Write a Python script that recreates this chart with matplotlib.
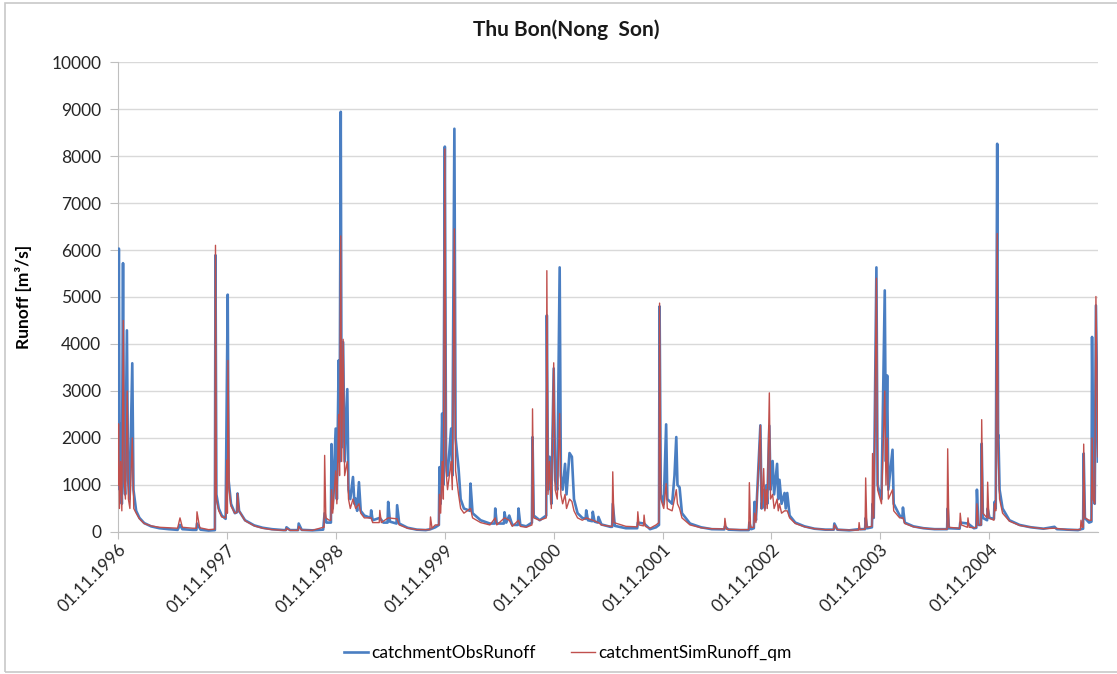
import matplotlib
matplotlib.use("Agg")
import matplotlib.pyplot as plt
import matplotlib.dates as mdates
from matplotlib.patches import Rectangle
import numpy as np

plt.rcParams['font.family'] = ['Lato', 'DejaVu Sans']

# observed runoff at Nong Son, key points (date, m3/s)
obs_points = [
    ("1996-11-01", 1500), ("1996-11-04", 6030), ("1996-11-07", 900), ("1996-11-10", 2300),
    ("1996-11-14", 600), ("1996-11-18", 5720), ("1996-11-21", 1300), ("1996-11-25", 800),
    ("1996-12-01", 4290), ("1996-12-05", 1100), ("1996-12-10", 700), ("1996-12-19", 3590),
    ("1996-12-23", 900), ("1997-01-01", 450), ("1997-01-12", 300), ("1997-01-28", 190),
    ("1997-02-20", 120), ("1997-03-20", 80), ("1997-04-20", 60), ("1997-05-20", 45),
    ("1997-05-28", 150), ("1997-06-05", 60), ("1997-07-10", 45), ("1997-07-22", 45),
    ("1997-07-24", 180), ("1997-08-05", 50), ("1997-09-01", 30), ("1997-09-22", 40),
    ("1997-09-24", 5890), ("1997-09-27", 800), ("1997-10-05", 500), ("1997-10-15", 350),
    ("1997-10-28", 280), ("1997-11-04", 5050), ("1997-11-07", 1100), ("1997-11-15", 600),
    ("1997-11-28", 400), ("1997-12-05", 420), ("1997-12-07", 820), ("1997-12-12", 450),
    ("1998-01-01", 250), ("1998-02-01", 140), ("1998-03-01", 90), ("1998-04-01", 60),
    ("1998-05-10", 40), ("1998-05-18", 40), ("1998-05-20", 100), ("1998-06-01", 40),
    ("1998-06-28", 40), ("1998-06-30", 180), ("1998-07-10", 45), ("1998-08-15", 35),
    ("1998-09-20", 50), ("1998-09-25", 400), ("1998-10-01", 200), ("1998-10-16", 200),
    ("1998-10-18", 1870), ("1998-10-22", 500), ("1998-11-01", 2200), ("1998-11-05", 700),
    ("1998-11-11", 3650), ("1998-11-14", 1500), ("1998-11-18", 8940), ("1998-11-21", 1800),
    ("1998-11-26", 4040), ("1998-12-01", 1500), ("1998-12-10", 3040), ("1998-12-14", 900),
    ("1998-12-20", 700), ("1998-12-29", 1170), ("1999-01-03", 600), ("1999-01-07", 710),
    ("1999-01-12", 450), ("1999-01-18", 1060), ("1999-01-24", 450), ("1999-02-05", 350),
    ("1999-02-26", 300), ("1999-02-28", 460), ("1999-03-05", 250), ("1999-03-29", 300),
    ("1999-04-10", 200), ("1999-04-24", 200), ("1999-04-26", 640), ("1999-05-02", 220),
    ("1999-05-24", 180), ("1999-05-26", 570), ("1999-06-02", 180), ("1999-06-30", 90),
    ("1999-07-31", 50), ("1999-08-30", 40), ("1999-09-15", 60), ("1999-10-01", 100),
    ("1999-10-13", 150), ("1999-10-15", 1380), ("1999-10-19", 600), ("1999-10-24", 2520),
    ("1999-10-28", 1000), ("1999-11-02", 8200), ("1999-11-06", 1500), ("1999-11-11", 1200),
    ("1999-11-23", 2200), ("1999-11-27", 1200), ("1999-12-04", 8580), ("1999-12-08", 2000),
    ("1999-12-18", 1350), ("1999-12-25", 700), ("2000-01-05", 500), ("2000-01-25", 450),
    ("2000-01-27", 1030), ("2000-02-03", 400), ("2000-03-01", 250), ("2000-04-01", 180),
    ("2000-04-17", 180), ("2000-04-19", 500), ("2000-04-24", 180), ("2000-05-18", 180),
    ("2000-05-20", 420), ("2000-05-26", 200), ("2000-06-05", 350), ("2000-06-15", 150),
    ("2000-07-04", 150), ("2000-07-06", 500), ("2000-07-12", 150), ("2000-08-01", 120),
    ("2000-08-20", 200), ("2000-08-22", 2020), ("2000-08-26", 350), ("2000-09-15", 250),
    ("2000-10-07", 350), ("2000-10-09", 4610), ("2000-10-13", 900), ("2000-10-18", 1600),
    ("2000-10-24", 600), ("2000-11-01", 3480), ("2000-11-06", 1100), ("2000-11-13", 900),
    ("2000-11-21", 5630), ("2000-11-25", 1200), ("2000-12-01", 900), ("2000-12-09", 1450),
    ("2000-12-14", 800), ("2000-12-24", 1680), ("2001-01-01", 1600), ("2001-01-08", 700),
    ("2001-01-20", 400), ("2001-02-05", 300), ("2001-02-16", 280), ("2001-02-18", 460),
    ("2001-02-24", 250), ("2001-03-10", 230), ("2001-03-12", 430), ("2001-03-18", 220),
    ("2001-03-29", 200), ("2001-03-31", 320), ("2001-04-10", 160), ("2001-05-10", 110),
    ("2001-05-16", 110), ("2001-05-18", 600), ("2001-05-25", 130), ("2001-07-01", 80),
    ("2001-08-08", 80), ("2001-08-10", 200), ("2001-08-31", 180), ("2001-09-20", 60),
    ("2001-10-10", 100), ("2001-10-20", 150), ("2001-10-22", 4800), ("2001-10-26", 800),
    ("2001-11-05", 600), ("2001-11-13", 2290), ("2001-11-17", 700), ("2001-12-03", 600),
    ("2001-12-11", 1200), ("2001-12-17", 2020), ("2001-12-21", 1000), ("2001-12-28", 950),
    ("2002-01-05", 400), ("2002-02-01", 180), ("2002-03-10", 100), ("2002-04-15", 60),
    ("2002-05-27", 55), ("2002-05-29", 120), ("2002-06-10", 50), ("2002-07-20", 40),
    ("2002-08-17", 40), ("2002-08-19", 200), ("2002-08-25", 60), ("2002-09-03", 80),
    ("2002-09-05", 640), ("2002-09-10", 250), ("2002-09-25", 2270), ("2002-09-29", 500),
    ("2002-10-06", 900), ("2002-10-10", 500), ("2002-10-14", 990), ("2002-10-18", 600),
    ("2002-10-25", 2260), ("2002-10-29", 900), ("2002-11-05", 1510), ("2002-11-10", 800),
    ("2002-11-20", 1450), ("2002-11-24", 700), ("2002-11-28", 1110), ("2002-12-05", 600),
    ("2002-12-15", 830), ("2002-12-19", 500), ("2002-12-24", 830), ("2003-01-01", 350),
    ("2003-01-20", 200), ("2003-02-20", 120), ("2003-03-25", 70), ("2003-05-01", 50),
    ("2003-05-29", 50), ("2003-05-31", 180), ("2003-06-10", 50), ("2003-07-20", 35),
    ("2003-08-22", 60), ("2003-09-11", 60), ("2003-09-13", 300), ("2003-09-18", 80),
    ("2003-10-04", 100), ("2003-10-06", 600), ("2003-10-10", 300), ("2003-10-19", 5630),
    ("2003-10-23", 1000), ("2003-11-05", 700), ("2003-11-16", 5140), ("2003-11-20", 1500),
    ("2003-11-24", 3330), ("2003-11-28", 900), ("2003-12-12", 1750), ("2003-12-16", 600),
    ("2004-01-05", 350), ("2004-01-14", 300), ("2004-01-16", 520), ("2004-01-22", 200),
    ("2004-02-20", 120), ("2004-03-25", 80), ("2004-05-01", 60), ("2004-06-12", 60),
    ("2004-06-14", 500), ("2004-06-18", 80), ("2004-07-24", 70), ("2004-07-26", 200),
    ("2004-08-21", 180), ("2004-09-10", 80), ("2004-09-18", 90), ("2004-09-20", 900),
    ("2004-09-25", 150), ("2004-10-04", 150), ("2004-10-06", 1880), ("2004-10-10", 300),
    ("2004-10-24", 250), ("2004-10-26", 500), ("2004-11-01", 300), ("2004-11-16", 280),
    ("2004-11-18", 640), ("2004-11-22", 500), ("2004-11-27", 8260), ("2004-11-30", 2000),
    ("2004-12-01", 2060), ("2004-12-05", 900), ("2004-12-15", 500), ("2005-01-07", 250),
    ("2005-02-10", 150), ("2005-03-20", 100), ("2005-05-01", 70), ("2005-06-07", 110),
    ("2005-06-15", 60), ("2005-07-20", 50), ("2005-08-25", 40), ("2005-09-04", 60),
    ("2005-09-11", 70), ("2005-09-13", 1670), ("2005-09-17", 300), ("2005-10-01", 200),
    ("2005-10-09", 220), ("2005-10-11", 4150), ("2005-10-15", 800), ("2005-10-20", 600),
    ("2005-10-24", 4820), ("2005-10-31", 1500),
]

# simulated runoff after quantile mapping, key points (date, m3/s)
sim_points = [
    ("1996-11-01", 1000), ("1996-11-03", 2300), ("1996-11-06", 500), ("1996-11-10", 1500),
    ("1996-11-14", 450), ("1996-11-19", 4500), ("1996-11-22", 1100), ("1996-11-26", 700),
    ("1996-12-02", 3000), ("1996-12-06", 700), ("1996-12-11", 500), ("1996-12-19", 2000),
    ("1996-12-24", 500), ("1997-01-01", 400), ("1997-01-12", 280), ("1997-01-28", 180),
    ("1997-02-20", 130), ("1997-03-20", 100), ("1997-04-20", 90), ("1997-05-20", 80),
    ("1997-05-28", 300), ("1997-06-05", 100), ("1997-07-10", 80), ("1997-07-22", 80),
    ("1997-07-24", 430), ("1997-08-02", 90), ("1997-09-01", 50), ("1997-09-22", 60),
    ("1997-09-24", 6100), ("1997-09-27", 700), ("1997-10-05", 450), ("1997-10-15", 320),
    ("1997-10-28", 300), ("1997-11-01", 1530), ("1997-11-03", 400), ("1997-11-05", 3650),
    ("1997-11-09", 900), ("1997-11-15", 550), ("1997-11-28", 400), ("1997-12-05", 420),
    ("1997-12-07", 820), ("1997-12-12", 450), ("1998-01-01", 240), ("1998-02-01", 130),
    ("1998-03-01", 80), ("1998-04-01", 50), ("1998-05-10", 35), ("1998-05-18", 35),
    ("1998-05-20", 80), ("1998-06-01", 35), ("1998-06-28", 35), ("1998-06-30", 120),
    ("1998-07-10", 40), ("1998-08-15", 35), ("1998-09-20", 100), ("1998-09-23", 100),
    ("1998-09-25", 1630), ("1998-09-29", 300), ("1998-10-10", 250), ("1998-10-16", 250),
    ("1998-10-18", 900), ("1998-10-22", 400), ("1998-11-01", 1300), ("1998-11-05", 600),
    ("1998-11-11", 2500), ("1998-11-14", 1200), ("1998-11-18", 6300), ("1998-11-21", 1500),
    ("1998-11-26", 4100), ("1998-12-01", 1200), ("1998-12-10", 1500), ("1998-12-14", 700),
    ("1998-12-20", 500), ("1998-12-29", 700), ("1999-01-07", 500), ("1999-01-18", 600),
    ("1999-01-24", 400), ("1999-02-05", 300), ("1999-02-28", 300), ("1999-03-05", 200),
    ("1999-03-27", 200), ("1999-03-29", 460), ("1999-04-03", 200), ("1999-04-26", 300),
    ("1999-05-26", 280), ("1999-06-02", 150), ("1999-06-30", 80), ("1999-07-31", 50),
    ("1999-08-30", 50), ("1999-09-13", 50), ("1999-09-15", 320), ("1999-09-20", 80),
    ("1999-10-01", 150), ("1999-10-13", 150), ("1999-10-15", 800), ("1999-10-19", 400),
    ("1999-10-24", 1500), ("1999-10-28", 700), ("1999-11-02", 8150), ("1999-11-06", 1300),
    ("1999-11-11", 900), ("1999-11-23", 1500), ("1999-11-27", 900), ("1999-12-04", 6450),
    ("1999-12-08", 1300), ("1999-12-18", 800), ("1999-12-25", 500), ("2000-01-05", 400),
    ("2000-01-27", 500), ("2000-02-03", 300), ("2000-03-01", 200), ("2000-04-01", 150),
    ("2000-04-19", 300), ("2000-04-24", 150), ("2000-05-20", 300), ("2000-06-05", 250),
    ("2000-06-15", 120), ("2000-07-06", 250), ("2000-07-12", 120), ("2000-08-01", 100),
    ("2000-08-20", 150), ("2000-08-22", 2620), ("2000-08-26", 300), ("2000-09-15", 250),
    ("2000-10-07", 300), ("2000-10-09", 5560), ("2000-10-13", 800), ("2000-10-18", 1500),
    ("2000-10-24", 500), ("2000-11-01", 3600), ("2000-11-06", 900), ("2000-11-13", 700),
    ("2000-11-21", 2520), ("2000-11-25", 800), ("2000-12-01", 600), ("2000-12-09", 800),
    ("2000-12-14", 500), ("2000-12-24", 700), ("2001-01-01", 650), ("2001-01-08", 450),
    ("2001-01-20", 300), ("2001-02-05", 250), ("2001-02-18", 300), ("2001-03-12", 250),
    ("2001-03-31", 200), ("2001-04-10", 150), ("2001-05-10", 120), ("2001-05-16", 120),
    ("2001-05-18", 1280), ("2001-05-22", 200), ("2001-07-01", 120), ("2001-08-08", 110),
    ("2001-08-10", 430), ("2001-08-14", 150), ("2001-08-29", 130), ("2001-08-31", 360),
    ("2001-09-04", 120), ("2001-09-20", 80), ("2001-10-10", 150), ("2001-10-20", 200),
    ("2001-10-22", 4870), ("2001-10-26", 700), ("2001-11-05", 500), ("2001-11-13", 1030),
    ("2001-11-17", 500), ("2001-12-03", 450), ("2001-12-11", 700), ("2001-12-17", 900),
    ("2001-12-21", 600), ("2001-12-28", 500), ("2002-01-05", 300), ("2002-02-01", 150),
    ("2002-03-10", 90), ("2002-04-15", 70), ("2002-05-27", 65), ("2002-05-29", 290),
    ("2002-06-03", 60), ("2002-07-20", 50), ("2002-08-17", 50), ("2002-08-19", 1050),
    ("2002-08-23", 100), ("2002-09-03", 100), ("2002-09-05", 400), ("2002-09-10", 200),
    ("2002-09-25", 2270), ("2002-09-29", 500), ("2002-10-06", 1350), ("2002-10-10", 450),
    ("2002-10-14", 900), ("2002-10-18", 500), ("2002-10-25", 2960), ("2002-10-29", 700),
    ("2002-11-05", 800), ("2002-11-10", 500), ("2002-11-20", 700), ("2002-11-24", 450),
    ("2002-11-28", 600), ("2002-12-05", 400), ("2002-12-15", 450), ("2002-12-24", 450),
    ("2003-01-01", 300), ("2003-01-20", 180), ("2003-02-20", 110), ("2003-03-25", 70),
    ("2003-05-01", 50), ("2003-05-29", 50), ("2003-05-31", 150), ("2003-06-10", 50),
    ("2003-07-20", 40), ("2003-08-20", 40), ("2003-08-22", 200), ("2003-08-25", 50),
    ("2003-09-11", 60), ("2003-09-13", 1150), ("2003-09-17", 100), ("2003-10-04", 120),
    ("2003-10-06", 1670), ("2003-10-10", 300), ("2003-10-19", 5400), ("2003-10-23", 900),
    ("2003-11-05", 600), ("2003-11-16", 3000), ("2003-11-20", 1000), ("2003-11-24", 2000),
    ("2003-11-28", 700), ("2003-12-12", 900), ("2003-12-16", 450), ("2004-01-05", 300),
    ("2004-01-16", 300), ("2004-01-22", 180), ("2004-02-20", 110), ("2004-03-25", 80),
    ("2004-05-01", 60), ("2004-06-12", 60), ("2004-06-14", 1770), ("2004-06-18", 100),
    ("2004-07-24", 80), ("2004-07-26", 400), ("2004-07-30", 150), ("2004-08-19", 100),
    ("2004-08-21", 300), ("2004-08-25", 100), ("2004-09-10", 90), ("2004-09-18", 100),
    ("2004-09-20", 600), ("2004-09-25", 150), ("2004-10-04", 150), ("2004-10-06", 2390),
    ("2004-10-10", 400), ("2004-10-24", 300), ("2004-10-26", 1060), ("2004-10-30", 300),
    ("2004-11-16", 250), ("2004-11-18", 600), ("2004-11-22", 450), ("2004-11-27", 6350),
    ("2004-11-30", 1800), ("2004-12-01", 1500), ("2004-12-05", 700), ("2004-12-15", 400),
    ("2005-01-07", 230), ("2005-02-10", 140), ("2005-03-20", 100), ("2005-05-01", 70),
    ("2005-06-07", 80), ("2005-07-20", 50), ("2005-08-25", 50), ("2005-09-02", 50),
    ("2005-09-04", 250), ("2005-09-08", 100), ("2005-09-11", 100), ("2005-09-13", 1870),
    ("2005-09-17", 300), ("2005-10-01", 250), ("2005-10-09", 250), ("2005-10-11", 2000),
    ("2005-10-15", 700), ("2005-10-20", 600), ("2005-10-24", 5010), ("2005-10-31", 1600),
]

obs_dates = np.array([d for d, _ in obs_points], dtype="datetime64[D]")
obs_runoff = [v for _, v in obs_points]
sim_dates = np.array([d for d, _ in sim_points], dtype="datetime64[D]")
sim_runoff = [v for _, v in sim_points]

fig = plt.figure(figsize=(11.17, 6.74), dpi=100)
ax = fig.add_axes([0.1056, 0.2107, 0.8774, 0.6973])

ax.plot(obs_dates, obs_runoff, color="#4A7EC2", lw=1.9, label="catchmentObsRunoff", zorder=3)
ax.plot(sim_dates, sim_runoff, color="#C0504D", lw=1.0, label="catchmentSimRunoff_qm", zorder=4)

ax.set_ylim(0, 10000)
ax.set_yticks(np.arange(0, 10001, 1000))
ax.set_xlim(obs_dates[0], obs_dates[-1])
ax.xaxis.set_major_locator(mdates.YearLocator(base=1, month=11, day=1))
ax.xaxis.set_major_formatter(mdates.DateFormatter("%d.%m.%Y"))

ax.grid(axis="y", color="#D9D9D9", lw=1.0)
ax.set_axisbelow(True)
for s in ["top", "right"]:
    ax.spines[s].set_visible(False)
for s in ["left", "bottom"]:
    ax.spines[s].set_color("#BFBFBF")
ax.tick_params(axis="y", length=6, color="#BFBFBF", labelsize=12.5, labelcolor="#262626", pad=6)
ax.tick_params(axis="x", length=5, color="#BFBFBF", labelsize=12.5, labelcolor="#262626", pad=2)
for lab in ax.get_xticklabels():
    lab.set_rotation(45)
    lab.set_ha("right")
    lab.set_rotation_mode("anchor")

ax.set_ylabel("Runoff [m³/s]", fontsize=12.5, fontweight="bold", labelpad=14)
fig.text(566 / 1117, 1 - 30 / 674, "Thu Bon(Nong  Son)", ha="center", va="center",
         fontsize=15, fontweight="bold", color="#1A1A1A")

fig.legend(loc="center", bbox_to_anchor=(568 / 1117, 1 - 653 / 674), ncol=2, frameon=False,
           fontsize=12.5, handlelength=1.4, handletextpad=0.2, columnspacing=2.0)

# outer chart border
fig.patches.append(Rectangle((5 / 1117, 2 / 674), 1.2, 669 / 674, transform=fig.transFigure,
                             fill=False, edgecolor="#C8C8C8", lw=1.2))

fig.savefig("out.png", dpi=100)
